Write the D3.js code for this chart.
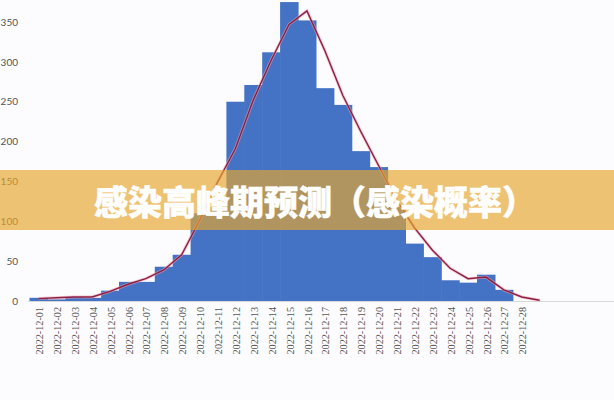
<!DOCTYPE html>
<html><head><meta charset="utf-8">
<script src="https://cdn.jsdelivr.net/npm/d3@7"></script>
<style>
html,body{margin:0;padding:0;background:#fcfcfe;}
svg{display:block;}
</style></head>
<body>
<svg id="c" width="614" height="400"></svg>
<script>
const categories = ["2022-12-01","2022-12-02","2022-12-03","2022-12-04","2022-12-05","2022-12-06","2022-12-07","2022-12-08","2022-12-09","2022-12-10","2022-12-11","2022-12-12","2022-12-13","2022-12-14","2022-12-15","2022-12-16","2022-12-17","2022-12-18","2022-12-19","2022-12-20","2022-12-21","2022-12-22","2022-12-23","2022-12-24","2022-12-25","2022-12-26","2022-12-27","2022-12-28","2022-12-29"];
const tickLabels = categories.slice(0, 28);
const barValues = [4,2,5,4,13,24,24,43,58,110,118,250,271,312,375,352,267,246,188,168,118,72,55,26,23,33,14,0];
const lineValues = [3,4,5,5,12,21,28,39,58,101,149,191,252,302,347,364,314,258,213,170,127,92,64,41,28,30,14,5,1];
const yTicks = [0,50,100,150,200,250,300,350];
const title = "感染高峰期预测（感染概率）";

const svg = d3.select("#c");
const x = d3.scaleBand().domain(categories).range([29.5, 29.5 + 17.9 * categories.length]).padding(0);
const y = d3.scaleLinear().domain([0, 350]).range([301, 22]);

// baseline
svg.append("line").attr("x1", 28).attr("x2", 614).attr("y1", 301.5).attr("y2", 301.5)
  .attr("stroke", "#d8d8d8").attr("stroke-width", 1);

// bars
svg.append("g").selectAll("rect").data(barValues).join("rect")
  .attr("x", (d, i) => x(categories[i]))
  .attr("width", x.bandwidth() + 0.6)
  .attr("y", d => y(d))
  .attr("height", d => y(0) - y(d))
  .attr("fill", "#4473c5");

// line
const line = d3.line().x((d, i) => x(categories[i]) + x.bandwidth() / 2).y(d => y(d)).curve(d3.curveLinear);
svg.append("path").datum(lineValues).attr("d", line).attr("fill", "none")
  .attr("stroke", "#f0a0a8").attr("stroke-width", 3).attr("opacity", 0.6);
svg.append("path").datum(lineValues).attr("d", line).attr("fill", "none")
  .attr("stroke", "#8a2048").attr("stroke-width", 1.4);

// y axis
const ya = d3.axisLeft(y).tickValues(yTicks).tickSize(0).tickPadding(0);
svg.append("g").attr("transform", "translate(18,0)").call(ya)
  .call(g => g.select(".domain").remove())
  .selectAll("text").attr("font-family", "Lato, 'DejaVu Sans', sans-serif").attr("font-size", 10)
  .attr("fill", "#555");

// x axis
const xa = d3.axisBottom(x).tickValues(tickLabels).tickSize(0).tickPadding(0);
svg.append("g").attr("transform", "translate(1,306)").call(xa)
  .call(g => g.select(".domain").remove())
  .selectAll("text")
  .attr("font-family", "'Liberation Serif', serif").attr("font-size", 10.2).attr("fill", "#555")
  .attr("transform", "rotate(-90)")
  .attr("text-anchor", "end").attr("dx", "-1").attr("dy", "0.35em").attr("y", 0).attr("x", 0);

// overlay band
svg.append("rect").attr("x", 0).attr("y", 170).attr("width", 614).attr("height", 60)
  .attr("fill", "rgb(230,166,46)").attr("opacity", 0.67);

svg.append("text").attr("x", 315).attr("y", 200).attr("text-anchor", "middle")
  .attr("dominant-baseline", "central")
  .attr("font-family", "'Noto Sans CJK SC', sans-serif").attr("font-weight", 900)
  .attr("font-size", 34).attr("fill", "#ffffff")
  .attr("stroke", "#ffffff").attr("stroke-width", 0.5).text(title);
</script>
</body></html>
